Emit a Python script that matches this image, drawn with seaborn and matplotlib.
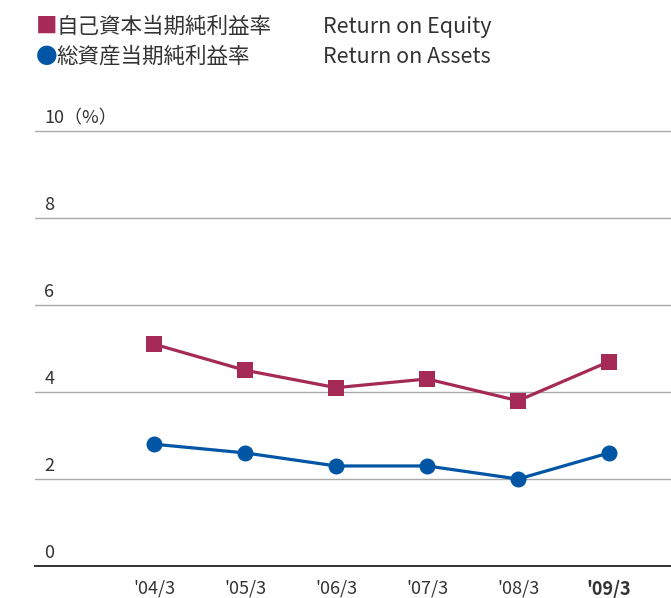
"""ROE / ROA trend chart (fiscal years '04/3 - '09/3)."""

import matplotlib.pyplot as plt
import matplotlib.transforms as mtransforms
import pandas as pd
import seaborn as sns

# ---- data -------------------------------------------------------------
periods = ["'04/3", "'05/3", "'06/3", "'07/3", "'08/3", "'09/3"]
roe = [5.1, 4.5, 4.1, 4.3, 3.8, 4.7]
roa = [2.8, 2.6, 2.3, 2.3, 2.0, 2.6]
y_ticks = [0, 2, 4, 6, 8, 10]
y_tick_labels = ["0", "2", "4", "6", "8", "10（%）"]

roe_label_jp = "自己資本当期純利益率"
roa_label_jp = "総資産当期純利益率"
roe_label_en = "Return on Equity"
roa_label_en = "Return on Assets"

ROE_COLOR = "#A52A55"
ROA_COLOR = "#0055A5"
TEXT_COLOR = "#333333"

sns.set_theme(style="white")
plt.rcParams["font.family"] = ["Noto Sans CJK JP", "DejaVu Sans"]

df = pd.DataFrame({
    "idx": list(range(len(periods))) * 2,
    "value": roe + roa,
    "series": ["ROE"] * len(roe) + ["ROA"] * len(roa),
})

fig = plt.figure(figsize=(6.71, 5.98), dpi=100)
ax = fig.add_axes([0.052, 0.0535, 0.948, 0.7274])

# grid lines (drawn by hand so they sit under the tick labels)
for y in y_ticks[1:]:
    ax.axhline(y, color="#aaaaaa", lw=1.0, zorder=0, clip_on=False)

sns.lineplot(
    data=df, x="idx", y="value", hue="series", style="series",
    palette={"ROE": ROE_COLOR, "ROA": ROA_COLOR},
    markers={"ROE": "s", "ROA": "o"}, dashes=False,
    linewidth=2.3, markersize=11.5, markeredgewidth=0,
    legend=False, ax=ax, zorder=3,
)

ax.set_xlim(-1.31, 5.68)
ax.set_ylim(0, 10)
ax.set_xlabel("")
ax.set_ylabel("")
ax.set_yticks([])

for side in ["top", "right", "left"]:
    ax.spines[side].set_visible(False)
ax.spines["bottom"].set_color("#222222")
ax.spines["bottom"].set_linewidth(1.3)

ax.set_xticks(range(len(periods)))
ax.set_xticklabels(periods, fontsize=13, color=TEXT_COLOR)
ax.get_xticklabels()[-1].set_fontweight("bold")
ax.tick_params(axis="x", length=0, pad=10)

# y labels sit just above each grid line, inside the plot area
trans = mtransforms.offset_copy(
    ax.get_yaxis_transform(), fig=fig, x=0, y=3, units="points"
)
for y, lab in zip(y_ticks, y_tick_labels):
    ax.text(0.015, y, lab, transform=trans, ha="left", va="bottom",
            fontsize=13, color=TEXT_COLOR)

# legend as text rows at the top
rows = [
    (1 - 27 / 598, "■", ROE_COLOR, roe_label_jp, roe_label_en),
    (1 - 57 / 598, "●", ROA_COLOR, roa_label_jp, roa_label_en),
]
for ypos, glyph, color, jp, en in rows:
    fig.text(36 / 671, ypos, glyph, color=color, fontsize=15.5,
             ha="left", va="center")
    fig.text(56 / 671, ypos, jp, color=TEXT_COLOR, fontsize=15.5,
             ha="left", va="center")
    fig.text(323 / 671, ypos, en, color=TEXT_COLOR, fontsize=15.5,
             ha="left", va="center")

plt.savefig("out.png", dpi=100)
plt.close()
